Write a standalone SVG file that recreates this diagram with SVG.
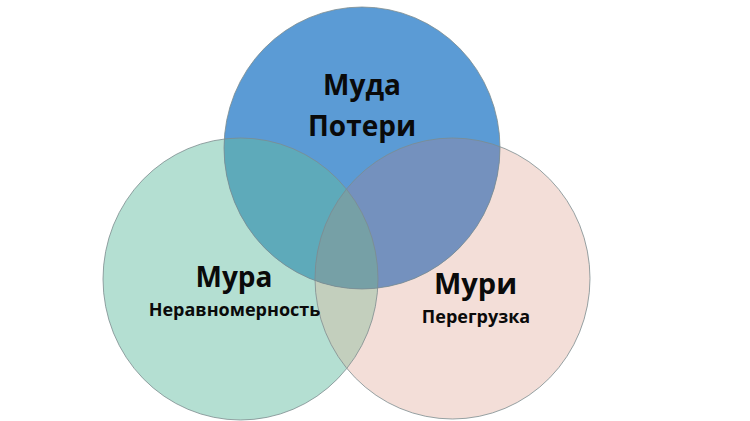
<svg xmlns="http://www.w3.org/2000/svg" width="750" height="421" viewBox="0 0 750 421">
<style>
  .t { font-family: "Open Sans", "Noto Sans", "Liberation Sans", sans-serif; font-weight: bold; fill: #0a0a0a; text-anchor: middle; }
  .big { font-size: 28px; }
  .small { font-size: 18px; }
  .edge { fill: none; stroke: #7d8c8e; stroke-width: 1; stroke-opacity: 0.8; }
</style>
<defs>
  <ellipse id="eTop" cx="362" cy="148" rx="138" ry="141"/>
  <ellipse id="eLeft" cx="240.5" cy="279" rx="137.5" ry="141"/>
  <ellipse id="eRight" cx="452.5" cy="278.5" rx="137.5" ry="140.5"/>
  <clipPath id="cTop"><use href="#eTop"/></clipPath>
  <clipPath id="cLeft"><use href="#eLeft"/></clipPath>
  <clipPath id="cRight"><use href="#eRight"/></clipPath>
</defs>
<rect width="750" height="421" fill="#ffffff"/>
<g id="node-mura">
  <use href="#eLeft" fill="#b4dfd2"/>
</g>
<g id="node-muri">
  <use href="#eRight" fill="#f3ded8"/>
</g>
<g id="node-muda">
  <use href="#eTop" fill="#5b9bd5"/>
</g>
<g id="overlaps">
  <g clip-path="url(#cLeft)"><use href="#eRight" fill="#c3cfbd"/></g>
  <g clip-path="url(#cTop)"><use href="#eLeft" fill="#5eaaba"/></g>
  <g clip-path="url(#cTop)"><use href="#eRight" fill="#7491be"/></g>
  <g clip-path="url(#cTop)"><g clip-path="url(#cLeft)"><use href="#eRight" fill="#76a0a6"/></g></g>
</g>
<g id="edges">
  <use href="#eLeft" class="edge"/>
  <use href="#eRight" class="edge"/>
  <use href="#eTop" class="edge"/>
</g>
<g id="labels">
  <text class="t big" x="362" y="95">Муда</text>
  <text class="t big" x="362" y="136">Потери</text>
  <text class="t big" x="234" y="287">Мура</text>
  <text class="t small" x="234.5" y="316">Неравномерность</text>
  <text class="t" x="475.5" y="294" font-size="29">Мури</text>
  <text class="t small" x="476" y="323">Перегрузка</text>
</g>
</svg>
